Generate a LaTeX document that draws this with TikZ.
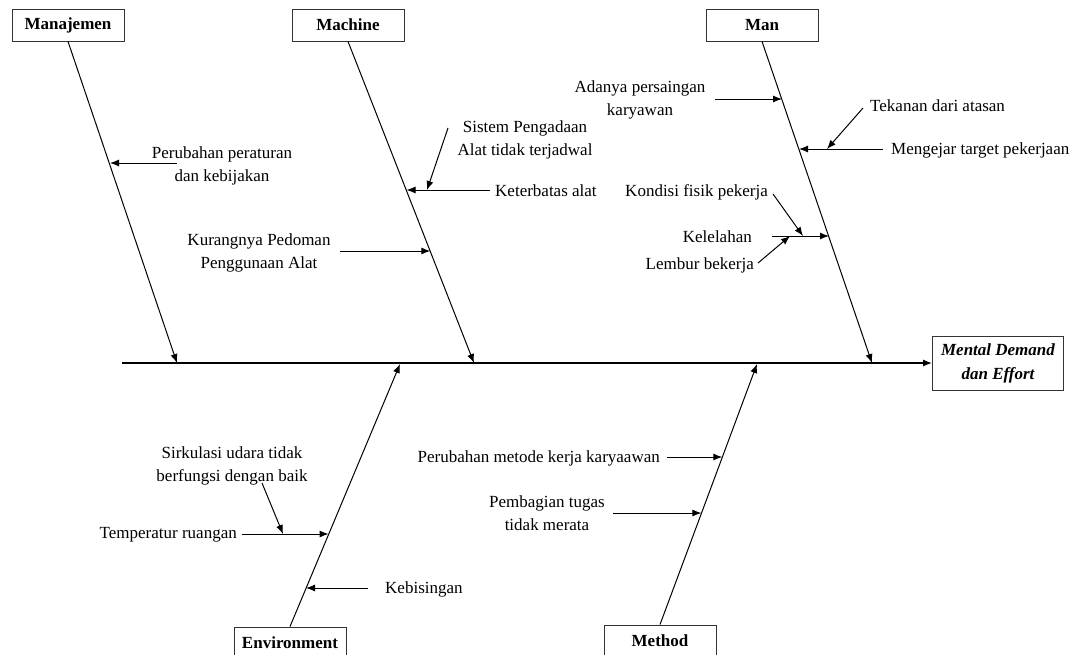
\documentclass[tikz,border=0pt]{standalone}
\usepackage{fontspec}
\setmainfont{Liberation Serif}
\usetikzlibrary{arrows.meta}

\begin{document}
\begin{tikzpicture}[x=1pt,y=-1pt,
    cat/.style={draw=black!80, line width=0.9pt, fill=white, inner sep=0pt,
      minimum width=112pt, minimum height=32pt,
      font=\fontsize{17}{22}\selectfont\bfseries},
    cause/.style={align=center, inner sep=0pt, font=\fontsize{17}{23.5}\selectfont},
    bone/.style={line width=1pt, -{Latex[length=9pt,width=7pt]}},
    sub/.style={line width=1pt, -{Latex[length=9pt,width=7pt]}}]
    \clip (0,0) rectangle (1075,654);
    \fill[white] (0,0) rectangle (1075,654);

    % kategori
    \node[cat] (manaj) at (68,25) {Manajemen};
    \node[cat] (mach) at (348,25) {Machine};
    \node[cat] (man) at (762,25) {Man};
    \node[cat] (env) at (290,643) {Environment};
    \node[cat] (meth) at (660,641) {Method};
    \node[cat, align=center, minimum width=131pt, minimum height=54pt,
      font=\fontsize{17}{24}\selectfont\bfseries\itshape] (md) at (998,363) {Mental Demand\\dan Effort};

    % tulang utama
    \coordinate (tail) at (122,363);
    \draw[bone, line width=1.4pt] (tail) -- (md.west);
    \coordinate (manajend) at (177,363);
    \coordinate (machend) at (474,363);
    \coordinate (manend) at (872,363);
    \coordinate (envend) at (400,364);
    \coordinate (methend) at (757,364);
    \draw[bone] (manaj.south) -- (manajend);
    \draw[bone] (mach.south) -- (machend);
    \draw[bone] (man.south) -- (manend);
    \draw[bone] (env.north) -- (envend);
    \draw[bone] (meth.north) -- (methend);

    % Manajemen
    \node[cause] (perat) at (222,166) {Perubahan peraturan\\dan kebijakan};
    \coordinate (peratS) at (177,163);
    \coordinate (peratE) at (110,163);
    \draw[sub] (peratS) -- (peratE);

    % Machine
    \node[cause] (sist) at (525,140) {Sistem Pengadaan\\Alat tidak terjadwal};
    \node[cause, anchor=west] (ketb) at (495,191) {Keterbatas alat};
    \coordinate (ketbS) at (490,190);
    \coordinate (ketbE) at (406.5,190);
    \draw[sub] (ketbS) -- (ketbE);
    \coordinate (sistS) at (448,128);
    \coordinate (sistE) at (427,190);
    \draw[sub] (sistS) -- (sistE);
    \node[cause] (pedo) at (259,253) {Kurangnya Pedoman\\Penggunaan Alat};
    \coordinate (pedoS) at (340,251);
    \coordinate (pedoE) at (430.3,251);
    \draw[sub] (pedoS) -- (pedoE);

    % Man
    \node[cause] (sain) at (640,100) {Adanya persaingan\\karyawan};
    \coordinate (sainS) at (715,99);
    \coordinate (sainE) at (782,99);
    \draw[sub] (sainS) -- (sainE);
    \node[cause, anchor=west] (tekan) at (870,106) {Tekanan dari atasan};
    \coordinate (tekanS) at (863,108);
    \coordinate (tekanE) at (827,149);
    \draw[sub] (tekanS) -- (tekanE);
    \node[cause, anchor=west] (kejar) at (891,150) {Mengejar target pekerjaan};
    \coordinate (kejarS) at (883,149);
    \coordinate (kejarE) at (799,149);
    \draw[sub] (kejarS) -- (kejarE);
    \node[cause, anchor=east] (fisik) at (768,192) {Kondisi fisik pekerja};
    \coordinate (fisikS) at (773,194);
    \coordinate (fisikE) at (803,236);
    \draw[sub] (fisikS) -- (fisikE);
    \node[cause, anchor=east] (lelah) at (752,237) {Kelelahan};
    \coordinate (lelahS) at (772,236);
    \coordinate (lelahE) at (829,236);
    \draw[sub] (lelahS) -- (lelahE);
    \node[cause, anchor=east] (lembur) at (754,265) {Lembur bekerja};
    \coordinate (lemburS) at (758,263);
    \coordinate (lemburE) at (790,236);
    \draw[sub] (lemburS) -- (lemburE);

    % Environment
    \node[cause] (sirk) at (232,466) {Sirkulasi udara tidak\\berfungsi dengan baik};
    \coordinate (sirkS) at (262,483);
    \coordinate (sirkE) at (283,534);
    \draw[sub] (sirkS) -- (sirkE);
    \node[cause, anchor=east] (temp) at (237,535) {Temperatur ruangan};
    \coordinate (tempS) at (242,534);
    \coordinate (tempE) at (328.6,534);
    \draw[sub] (tempS) -- (tempE);
    \node[cause, anchor=west] (bising) at (385,589) {Kebisingan};
    \coordinate (bisingS) at (368,588);
    \coordinate (bisingE) at (306,588);
    \draw[sub] (bisingS) -- (bisingE);

    % Method
    \node[cause, anchor=east] (metode) at (660,458) {Perubahan metode kerja karyaawan};
    \coordinate (metodeS) at (667,457);
    \coordinate (metodeE) at (722.3,457);
    \draw[sub] (metodeS) -- (metodeE);
    \node[cause] (bagi) at (547,513) {Pembagian tugas\\tidak merata};
    \coordinate (bagiS) at (613,513);
    \coordinate (bagiE) at (701.4,513);
    \draw[sub] (bagiS) -- (bagiE);
\end{tikzpicture}
\end{document}
